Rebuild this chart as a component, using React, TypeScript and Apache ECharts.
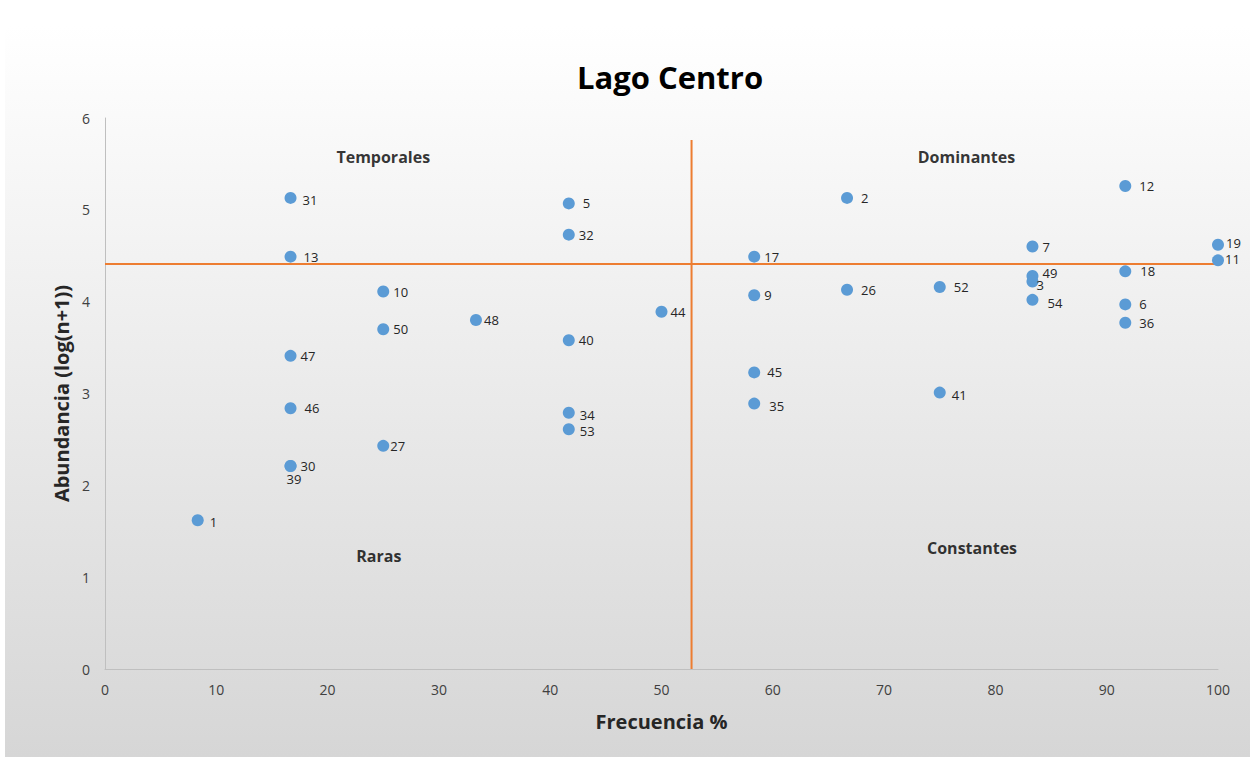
import React, { useEffect, useRef } from "react";
import * as echarts from "echarts";

const ids = ["1","31","13","47","46","30","39","10","50","27","48","5","32","40","34","53","44","17","9","45","35","2","26","52","41","7","49","3","54","12","18","6","36","19","11"];
const frecuencia = [8.33,16.67,16.67,16.67,16.67,16.67,16.67,25,25,25,33.33,41.67,41.67,41.67,41.67,41.67,50,58.33,58.33,58.33,58.33,66.67,66.67,75,75,83.33,83.33,83.33,83.33,91.67,91.67,91.67,91.67,100,100];
const abundancia = [1.62,5.13,4.49,3.41,2.84,2.21,2.21,4.11,3.70,2.43,3.80,5.07,4.73,3.58,2.79,2.61,3.89,4.49,4.07,3.23,2.89,5.13,4.13,4.16,3.01,4.60,4.28,4.22,4.02,5.26,4.33,3.97,3.77,4.62,4.45];

const cutX = 52.7;
const cutY = 4.41;
const cutXTop = 5.76;
const cutYRight = 101.3;

const quadrantNames = ["Temporales", "Dominantes", "Raras", "Constantes"];
const quadrantX = [25, 77.4, 24.6, 77.9];
const quadrantY = [5.57, 5.57, 1.23, 1.32];

const xTicks = [0, 10, 20, 30, 40, 50, 60, 70, 80, 90, 100];
const yTicks = [0, 1, 2, 3, 4, 5, 6];

const FONT = "'Open Sans', 'Noto Sans', sans-serif";

const labelOffsets: Record<string, number[]> = {
  "39": [-14, 13],
  "49": [0, -3],
  "3": [-6, 4],
  "19": [-2, -2],
  "11": [-3, -1],
  "12": [4, 0],
  "13": [3, 0],
  "54": [5, 3],
  "36": [4, 0],
  "18": [5, 0],
  "26": [4, 0],
  "52": [4, 0],
  "41": [2, 2],
  "35": [5, 2],
  "45": [3, 0],
  "46": [4, 0],
  "34": [1, 2],
  "53": [1, 2],
  "27": [-3, 0],
  "48": [-2, 0],
  "44": [-1, 0],
  "6": [4, 0],
  "5": [4, 0],
  "2": [4, 0],
  "31": [2, 2],
  "1": [2, 2],
};

export default function App() {
  const ref = useRef<HTMLDivElement>(null);
  useEffect(() => {
    document.body.style.margin = "0";
    const chart = echarts.init(ref.current!, null, { renderer: "svg" });
    const pts = ids.map((id, i) => ({
      value: [frecuencia[i], abundancia[i]],
      name: id,
      label: { offset: labelOffsets[id] || [0, 0] },
    }));
    chart.setOption({
      animation: false,
      backgroundColor: "#ffffff",
      graphic: [
        {
          type: "rect",
          z: -10,
          silent: true,
          shape: { x: 5, y: 25, width: 1245, height: 732 },
          style: {
            fill: new echarts.graphic.LinearGradient(0, 0, 0, 1, [
              { offset: 0, color: "#ffffff" },
              { offset: 1, color: "#d6d6d6" },
            ]),
          },
        },
      ],
      title: {
        text: "Lago Centro",
        left: 665,
        top: 56,
        textAlign: "center",
        textStyle: { fontFamily: FONT, fontSize: 31, fontWeight: "bold", color: "#000" },
      },
      grid: { left: 105, right: 35, top: 118, bottom: 90 },
      xAxis: {
        type: "value",
        min: 0,
        max: 100,
        interval: 10,
        name: "Frecuencia %",
        nameLocation: "middle",
        nameGap: 42,
        nameTextStyle: { fontFamily: FONT, fontSize: 20, fontWeight: "bold", color: "#262626" },
        axisLine: { show: true, lineStyle: { color: "#bfbfbf", width: 1 } },
        axisTick: { show: false },
        splitLine: { show: false },
        axisLabel: {
          fontFamily: FONT,
          fontSize: 14,
          color: "#404040",
          margin: 13,
          formatter: (v: number) => (xTicks.includes(v) ? String(v) : ""),
        },
      },
      yAxis: {
        type: "value",
        min: 0,
        max: 6,
        interval: 1,
        name: "Abundancia (log(n+1))",
        nameLocation: "middle",
        nameGap: 33,
        nameTextStyle: { fontFamily: FONT, fontSize: 20, fontWeight: "bold", color: "#262626" },
        axisLine: { show: true, lineStyle: { color: "#bfbfbf", width: 1 } },
        axisTick: { show: false },
        splitLine: { show: false },
        axisLabel: {
          fontFamily: FONT,
          fontSize: 14,
          color: "#404040",
          margin: 15,
          formatter: (v: number) => (yTicks.includes(v) ? String(v) : ""),
        },
      },
      series: [
        {
          type: "line",
          data: [[cutX, 0], [cutX, cutXTop]],
          symbol: "none",
          clip: false,
          lineStyle: { color: "#ed7d31", width: 2 },
          z: 1,
        },
        {
          type: "line",
          data: [[0, cutY], [cutYRight, cutY]],
          symbol: "none",
          clip: false,
          lineStyle: { color: "#ed7d31", width: 2 },
          z: 1,
        },
        {
          type: "scatter",
          data: pts,
          symbolSize: 12,
          itemStyle: { color: "#5b9bd5", opacity: 1 },
          z: 3,
          label: {
            show: true,
            position: "right",
            distance: 4,
            formatter: (p: any) => p.name,
            fontFamily: FONT,
            fontSize: 13,
            color: "#262626",
          },
        },
        {
          type: "scatter",
          data: quadrantNames.map((n, i) => ({ value: [quadrantX[i], quadrantY[i]], name: n })),
          symbolSize: 1,
          itemStyle: { color: "rgba(0,0,0,0)" },
          z: 2,
          label: {
            show: true,
            position: "inside",
            formatter: (p: any) => p.name,
            fontFamily: FONT,
            fontSize: 16,
            fontWeight: "bold",
            color: "#000",
          },
        },
      ],
    });
    return () => chart.dispose();
  }, []);
  return <div ref={ref} style={{ width: 1253, height: 759 }} />;
}
